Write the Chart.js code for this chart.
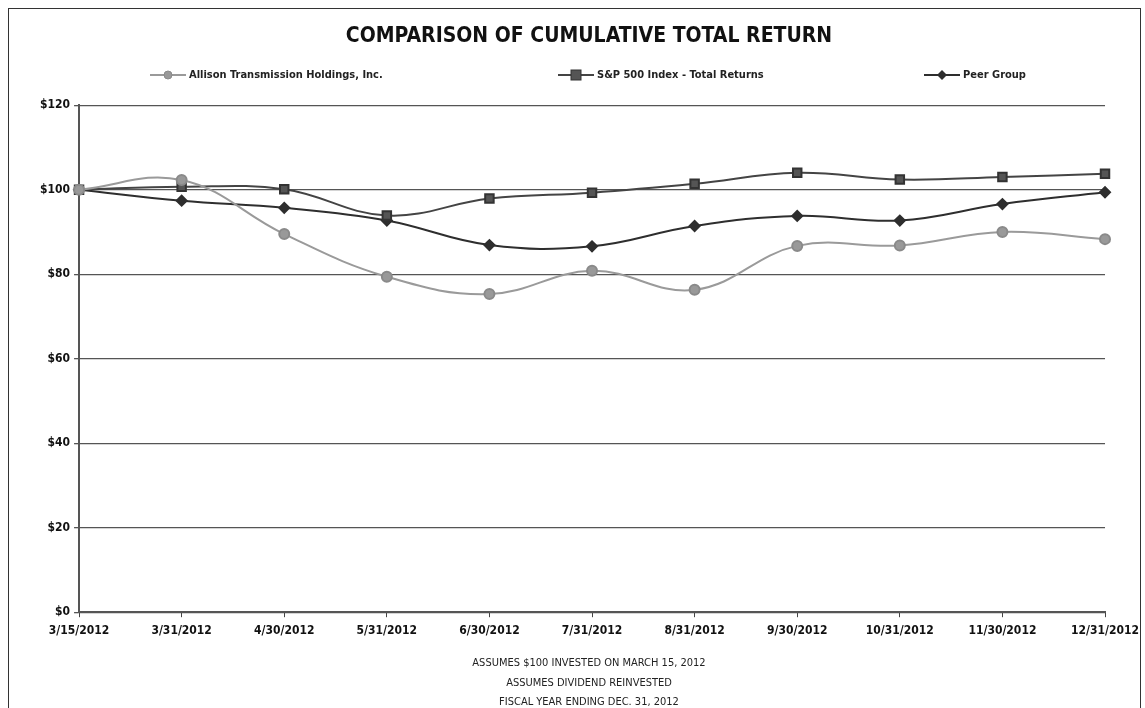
<!DOCTYPE html>
<html>
<head>
<meta charset="utf-8">
<script src="https://cdn.jsdelivr.net/npm/chart.js@4"></script>
<style>
  html, body { margin: 0; padding: 0; background: #fff; }
  body { width: 1145px; height: 708px; position: relative; overflow: hidden; font-family: "DejaVu Sans Condensed", "DejaVu Sans", sans-serif; }
  #frame { position: absolute; left: 8px; top: 8px; width: 1131px; height: 720px; border: 1px solid #333; pointer-events: none; }
  #wrap { position: absolute; left: 0; top: 0; width: 1145px; height: 712px; }
  .lg { position: absolute; top: 68px; font-size: 11px; font-weight: bold; color: #222; white-space: nowrap; line-height: 14px; }
  .lg svg { vertical-align: middle; margin-right: 3px; }
</style>
</head>
<body>
<div id="wrap"><canvas id="chart" width="1145" height="712"></canvas></div>
<div id="frame"></div>
<div class="lg" style="left:150px">
  <svg width="36" height="12"><line x1="0" y1="6" x2="36" y2="6" stroke="#9a9a9a" stroke-width="2"/><circle cx="18" cy="6" r="4" fill="#999" stroke="#8a8a8a"/></svg>Allison Transmission Holdings, Inc.
</div>
<div class="lg" style="left:558px">
  <svg width="36" height="12"><line x1="0" y1="6" x2="36" y2="6" stroke="#444" stroke-width="2"/><rect x="13" y="1" width="10" height="10" fill="#555" stroke="#333"/></svg>S&amp;P 500 Index - Total Returns
</div>
<div class="lg" style="left:924px">
  <svg width="36" height="12"><line x1="0" y1="6" x2="36" y2="6" stroke="#2e2e2e" stroke-width="2"/><polygon points="18,1 23,6 18,11 13,6" fill="#2e2e2e"/></svg>Peer Group
</div>
<script>
  // values
  const dates = ["3/15/2012","3/31/2012","4/30/2012","5/31/2012","6/30/2012","7/31/2012",
                 "8/31/2012","9/30/2012","10/31/2012","11/30/2012","12/31/2012"];
  const allison = [100, 102.3, 89.5, 79.4, 75.3, 80.8, 76.3, 86.7, 86.8, 90.0, 88.3];
  const sp500   = [100, 100.7, 100.1, 93.9, 97.9, 99.3, 101.4, 104.0, 102.4, 103.0, 103.8];
  const peer    = [100, 97.4, 95.7, 92.7, 86.9, 86.6, 91.4, 93.8, 92.7, 96.6, 99.4];
  const yTicks  = [0, 20, 40, 60, 80, 100, 120];
  const footnote = ["ASSUMES $100 INVESTED ON MARCH 15, 2012",
                    "ASSUMES DIVIDEND REINVESTED",
                    "FISCAL YEAR ENDING DEC. 31, 2012"];

  const FONT = "'DejaVu Sans Condensed', 'DejaVu Sans', sans-serif";

  document.addEventListener('DOMContentLoaded', () => {
    const ctx = document.getElementById('chart').getContext('2d');
    new Chart(ctx, {
      type: 'line',
      data: {
        labels: dates,
        datasets: [
          {
            label: 'Allison Transmission Holdings, Inc.',
            data: allison,
            borderColor: '#9a9a9a', backgroundColor: '#999',
            pointBorderColor: '#8a8a8a',
            borderWidth: 2, tension: 0.4,
            pointStyle: 'circle', pointRadius: 5
          },
          {
            label: 'S&P 500 Index - Total Returns',
            data: sp500,
            borderColor: '#444', backgroundColor: '#555',
            pointBorderColor: '#333',
            borderWidth: 2, tension: 0.4,
            pointStyle: 'rect', pointRadius: 6
          },
          {
            label: 'Peer Group',
            data: peer,
            borderColor: '#2e2e2e', backgroundColor: '#2e2e2e',
            borderWidth: 2, tension: 0.4,
            pointStyle: 'rectRot', pointRadius: 5
          }
        ]
      },
      options: {
        responsive: false,
        animation: false,
        layout: { padding: { left: 36, right: 3, top: 0, bottom: 0 } },
        plugins: {
          legend: { display: false },
          tooltip: { enabled: false },
          title: {
            display: true,
            text: 'COMPARISON OF CUMULATIVE TOTAL RETURN',
            color: '#111',
            font: { family: FONT, size: 21, weight: 'bold' },
            padding: { top: 24, bottom: 56 }
          },
          subtitle: {
            display: true,
            position: 'bottom',
            text: footnote,
            color: '#222',
            font: { family: FONT, size: 11, lineHeight: 1.77 },
            padding: { top: 10, bottom: 0 }
          }
        },
        scales: {
          x: {
            offset: false,
            grid: { drawOnChartArea: false, drawTicks: true, tickLength: 5, color: '#444' },
            border: { color: '#555', width: 2 },
            ticks: {
              color: '#111', maxRotation: 0, autoSkip: false, padding: 6,
              font: { family: FONT, size: 12, weight: 'bold' }
            }
          },
          y: {
            min: 0, max: 120,
            afterBuildTicks: axis => { axis.ticks = yTicks.map(v => ({ value: v })); },
            grid: { color: '#555', lineWidth: 1.3, tickLength: 5 },
            border: { color: '#555', width: 2 },
            ticks: {
              color: '#111', padding: 4,
              font: { family: FONT, size: 12, weight: 'bold' },
              callback: v => '$' + v
            }
          }
        }
      }
    });
  });
</script>
</body>
</html>
